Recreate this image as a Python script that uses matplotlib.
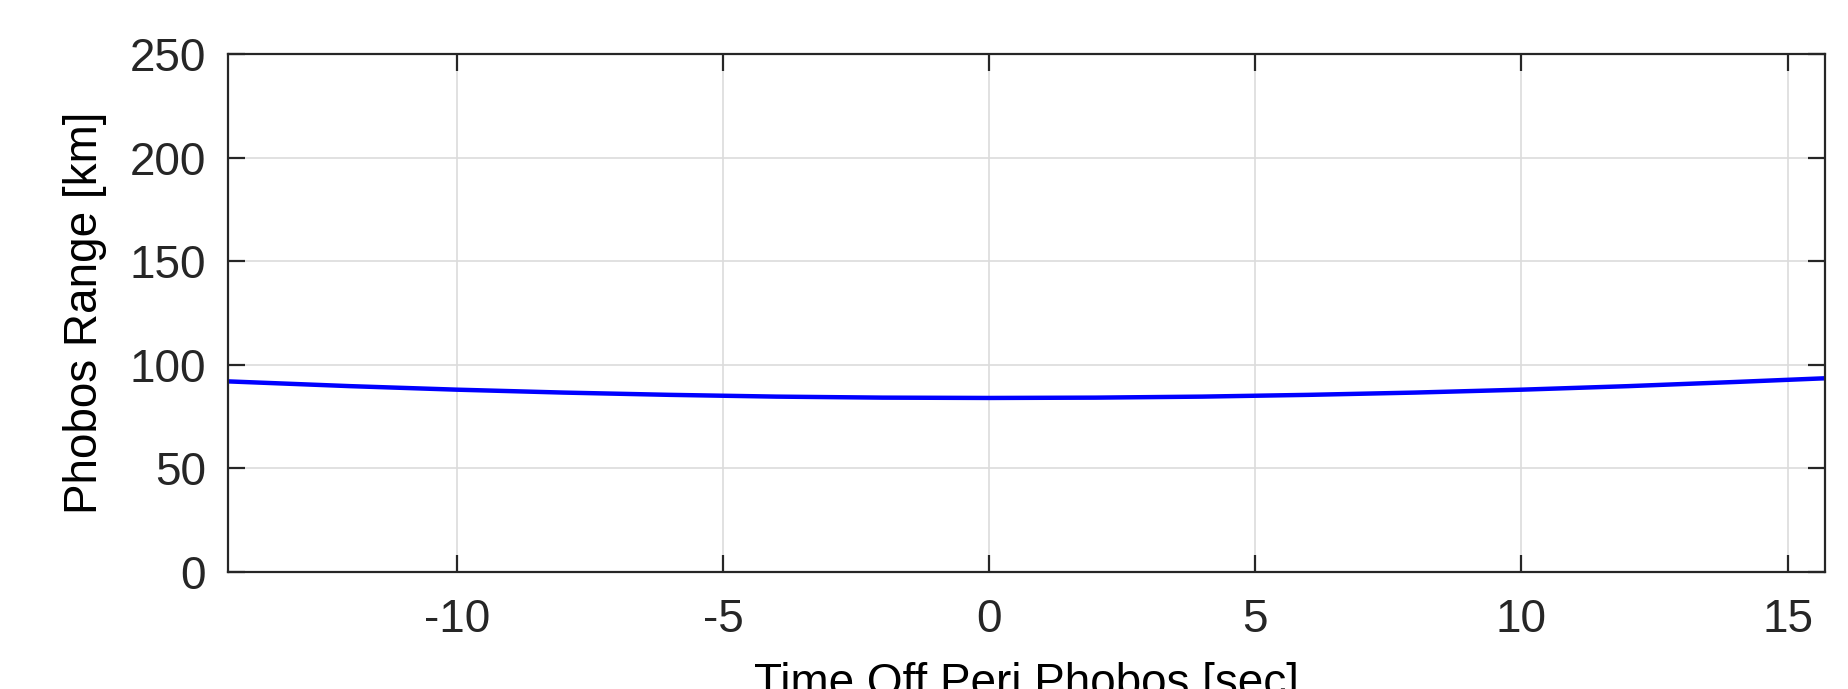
# Phobos range vs time from periapsis
import matplotlib
matplotlib.use("Agg")
import matplotlib.pyplot as plt

# data
time_sec = [-14.3, -12, -10, -8, -6, -4, -2, 0, 2, 4, 6, 8, 10, 12, 14, 15.7]
range_km = [92.0, 89.7, 88.0, 86.6, 85.5, 84.65, 84.16, 84.0, 84.16, 84.65,
            85.5, 86.6, 88.0, 89.7, 91.7, 93.5]
xticks = [-10, -5, 0, 5, 10, 15]
yticks = [0, 50, 100, 150, 200, 250]

plt.rcParams['font.family'] = ['Liberation Sans', 'DejaVu Sans']
plt.rcParams['axes.unicode_minus'] = False
axcol = '#262626'

fig = plt.figure(figsize=(18.48, 6.89), dpi=100)
ax = fig.add_axes([0.1234, 0.1698, 0.8641, 0.7518])

ax.plot(time_sec, range_km, color='blue', lw=3.2)

ax.set_xlim(time_sec[0], time_sec[-1])
ax.set_ylim(0, 250)
ax.set_xticks(xticks)
ax.set_yticks(yticks)
ax.grid(True, color='#dcdcdc', lw=1.2)
ax.set_axisbelow(True)

for s in ax.spines.values():
    s.set_color(axcol)
    s.set_linewidth(1.6)
ax.tick_params(direction='in', length=12, width=1.6, color=axcol,
               labelcolor=axcol, labelsize=33, top=True, right=True)
ax.tick_params(axis='y', pad=16)
ax.tick_params(axis='x', pad=19)

ax.set_xlabel("Time Off Peri Phobos [sec]", fontsize=33, color='black', labelpad=14)
ax.set_ylabel("Phobos Range [km]", fontsize=33, color='black', labelpad=16)

fig.savefig("out.png", dpi=100)
